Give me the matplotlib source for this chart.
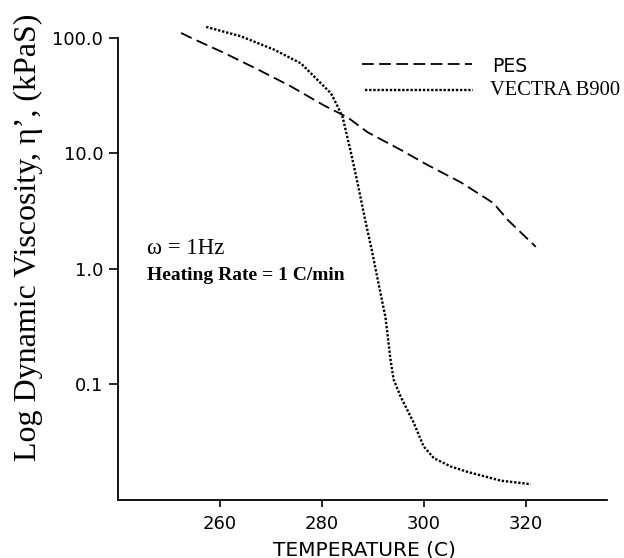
import matplotlib
matplotlib.use("Agg")
import matplotlib.pyplot as plt
from matplotlib.ticker import FixedLocator, NullLocator

# PES
pes_T = [252.4, 254.3, 260.8, 267.5, 273.9, 280.4, 285.1, 289.0, 295.5, 300.8, 307.3, 313.7, 316.5, 322.0]
pes_eta = [110, 100, 74, 53, 38, 26, 20.4, 15.2, 10.7, 7.9, 5.6, 3.7, 2.65, 1.55]

# VECTRA B900
vec_T = [257.3, 264.1, 270.6, 275.9, 279.2, 281.8, 283.0, 284.1, 285.6, 287.0, 288.4, 289.8,
         291.1, 292.5, 293.5, 294.1, 295.5, 298.0, 300.0, 302.0, 305.3, 308.6, 315.1, 321.0]
vec_eta = [124, 103, 79, 60, 43, 33, 26, 20.5, 10.7, 5.6, 2.8, 1.46,
           0.76, 0.38, 0.162, 0.11, 0.078, 0.047, 0.029, 0.023, 0.0195, 0.0175, 0.0147, 0.0137]

xticks = [260, 280, 300, 320]
yticks = [0.1, 1.0, 10.0, 100.0]
ytick_labels = ["0.1", "1.0", "10.0", "100.0"]

DASH = (0, (6.5, 3))
DOT = (0, (1.0, 0.75))

fig = plt.figure(figsize=(6.24, 5.58), dpi=100)
ax = fig.add_axes([0.189, 0.104, 0.784, 0.852])

ax.plot(pes_T, pes_eta, color="black", lw=1.3, linestyle=DASH)
ax.plot(vec_T, vec_eta, color="black", lw=1.7, linestyle=DOT)

ax.set_yscale("log")
ax.set_xlim(240, 336)
ax.set_ylim(0.01, 130)

ax.spines["top"].set_visible(False)
ax.spines["right"].set_visible(False)
ax.spines["left"].set_bounds(0.01, 100)
ax.spines["left"].set_linewidth(1.3)
ax.spines["bottom"].set_linewidth(1.3)

ax.xaxis.set_major_locator(FixedLocator(xticks))
ax.yaxis.set_major_locator(FixedLocator(yticks))
ax.yaxis.set_minor_locator(NullLocator())
ax.xaxis.set_minor_locator(NullLocator())
ax.set_yticklabels(ytick_labels)
ax.set_xticklabels([str(t) for t in xticks])
ax.tick_params(axis="y", direction="out", length=6.5, width=1.2, labelsize=13, pad=4)
ax.tick_params(axis="x", direction="out", length=5, width=1.2, labelsize=13, pad=6)
for lab in ax.get_xticklabels() + ax.get_yticklabels():
    lab.set_family("DejaVu Sans")

fig.text(364 / 624, 1 - 550 / 558, "TEMPERATURE (C)", family="DejaVu Sans", fontsize=14.5,
         ha="center", va="center")
fig.text(28 / 624, 1 - 237 / 558, "Log Dynamic Viscosity, \u03b7\u2019, (kPaS)",
         family="Liberation Serif", fontsize=23, rotation=90, ha="center", va="center")

ax.text(0.059, 0.528, "\u03c9 = 1Hz", transform=ax.transAxes, family="Liberation Serif",
        fontsize=16.5, va="center", ha="left")
ax.text(0.059, 0.472, "Heating Rate = 1 C/min", transform=ax.transAxes, family="Liberation Serif",
        fontsize=14, fontweight="bold", va="center", ha="left")

# legend drawn manually in axes fraction
ax.plot([0.499, 0.724], [0.916, 0.916], transform=ax.transAxes, color="black", lw=1.3,
        linestyle=DASH)
ax.plot([0.505, 0.726], [0.863, 0.863], transform=ax.transAxes, color="black", lw=1.7,
        linestyle=DOT)
ax.text(0.765, 0.912, "PES", transform=ax.transAxes, family="DejaVu Sans", fontsize=13.5,
        va="center", ha="left")
ax.text(0.760, 0.861, "VECTRA B900", transform=ax.transAxes, family="Liberation Serif",
        fontsize=14.8, va="center", ha="left")

fig.savefig("out.png", dpi=100)
